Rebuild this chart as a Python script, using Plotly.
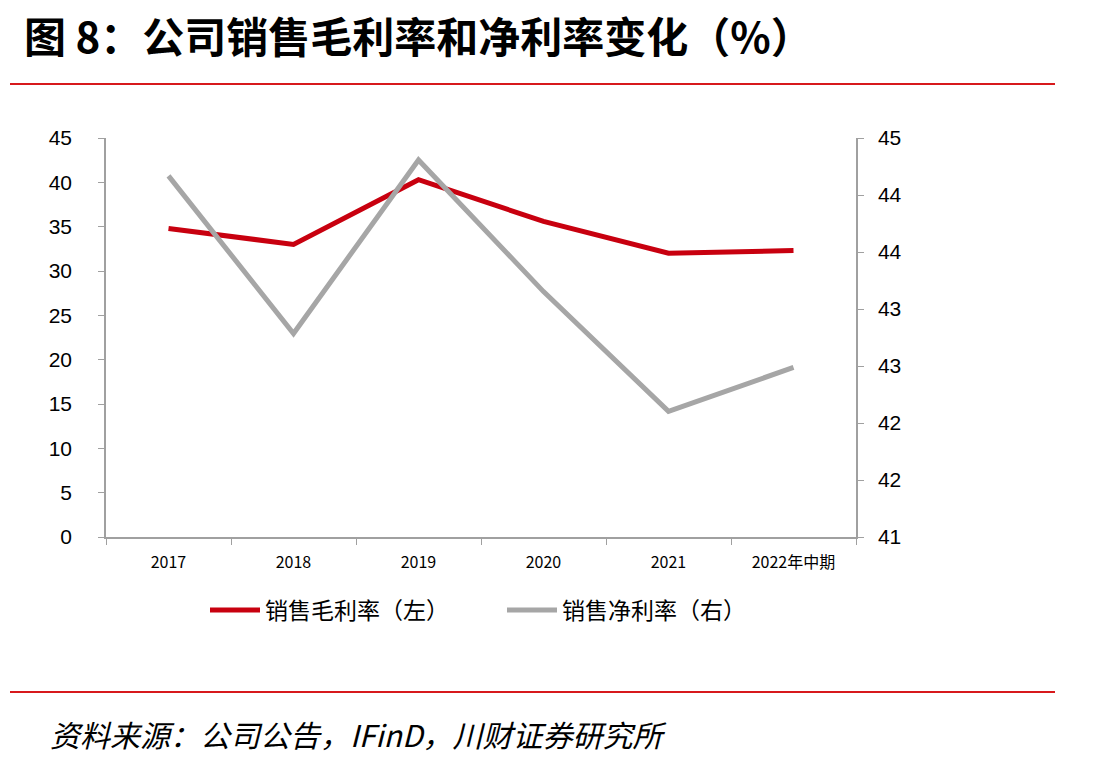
import plotly.graph_objects as go

categories = ["2017", "2018", "2019", "2020", "2021", "2022年中期"]
gross_margin = [34.8, 33.0, 40.3, 35.6, 32.0, 32.3]
net_margin = [44.62, 43.04, 44.78, 43.46, 42.26, 42.70]
left_ticks = [0, 5, 10, 15, 20, 25, 30, 35, 40, 45]
right_tick_labels = ["41", "42", "42", "43", "43", "44", "44", "45"]
right_min, right_max = 41, 45
right_ticks = [right_min + k * (right_max - right_min) / (len(right_tick_labels) - 1)
               for k in range(len(right_tick_labels))]

RED = "#C8000F"
GRAY = "#A6A6A6"
AXIS = "#A0A0A0"
CJK = "Noto Sans CJK SC"

fig = go.Figure()
fig.add_trace(go.Scatter(x=categories, y=gross_margin, mode="lines", name="销售毛利率（左）",
                         line=dict(color=RED, width=5), yaxis="y"))
fig.add_trace(go.Scatter(x=categories, y=net_margin, mode="lines", name="销售净利率（右）",
                         line=dict(color=GRAY, width=5), yaxis="y2"))

W, H = 1113, 764
L, R, T, B = 106, 856, 138, 537

fig.update_layout(
    width=W, height=H,
    margin=dict(l=L, r=W - R, t=T, b=H - B),
    paper_bgcolor="white", plot_bgcolor="white",
    showlegend=True,
    legend=dict(orientation="h", x=(205 - L) / (R - L), xanchor="left", y=-0.183, yanchor="middle",
                font=dict(family=CJK, size=23, color="#000"),
                itemwidth=50, entrywidth=232, bgcolor="rgba(0,0,0,0)"),
    xaxis=dict(type="category", showgrid=False, showline=True, linecolor=AXIS, linewidth=1.5,
               ticks="outside", tickson="boundaries", ticklen=6, tickcolor=AXIS,
               ticklabelstandoff=10,
               tickfont=dict(family=CJK, size=16, color="#000"), range=[-0.5, 5.5]),
    yaxis=dict(range=[0, 45], tickvals=left_ticks, showgrid=False, showline=True,
               linecolor=AXIS, linewidth=1.5, ticks="outside", ticklen=6, tickcolor=AXIS,
               ticklabelstandoff=22,
               tickfont=dict(family="Liberation Sans", size=21, color="#000"), zeroline=False),
    yaxis2=dict(range=[right_min, right_max], tickvals=right_ticks, ticktext=right_tick_labels,
                overlaying="y", side="right", showgrid=False, showline=True,
                linecolor=AXIS, linewidth=1.5, ticks="outside", ticklen=6, tickcolor=AXIS,
                ticklabelstandoff=10,
                tickfont=dict(family="Liberation Sans", size=21, color="#000"), zeroline=False),
)

# Title
fig.add_annotation(text="<b>图 8：公司销售毛利率和净利率变化（%）</b>", xref="paper", yref="paper",
                   x=(22 - L) / (R - L), y=(B - 34) / (B - T), xanchor="left", yanchor="middle",
                   showarrow=False, font=dict(family=CJK, size=42, color="#000"))
# Source
fig.add_annotation(text="<i>资料来源：公司公告，IFinD，川财证券研究所</i>", xref="paper", yref="paper",
                   x=(48 - L) / (R - L), y=(B - 734) / (B - T), xanchor="left", yanchor="middle",
                   showarrow=False, font=dict(family=CJK, size=30, color="#000"))

# red separator lines
for yy in (84, 692):
    fig.add_shape(type="line", xref="paper", yref="paper",
                  x0=(10 - L) / (R - L), x1=(1055 - L) / (R - L),
                  y0=(B - yy) / (B - T), y1=(B - yy) / (B - T),
                  line=dict(color="#D7191C", width=2))

fig.write_html("out.html")
